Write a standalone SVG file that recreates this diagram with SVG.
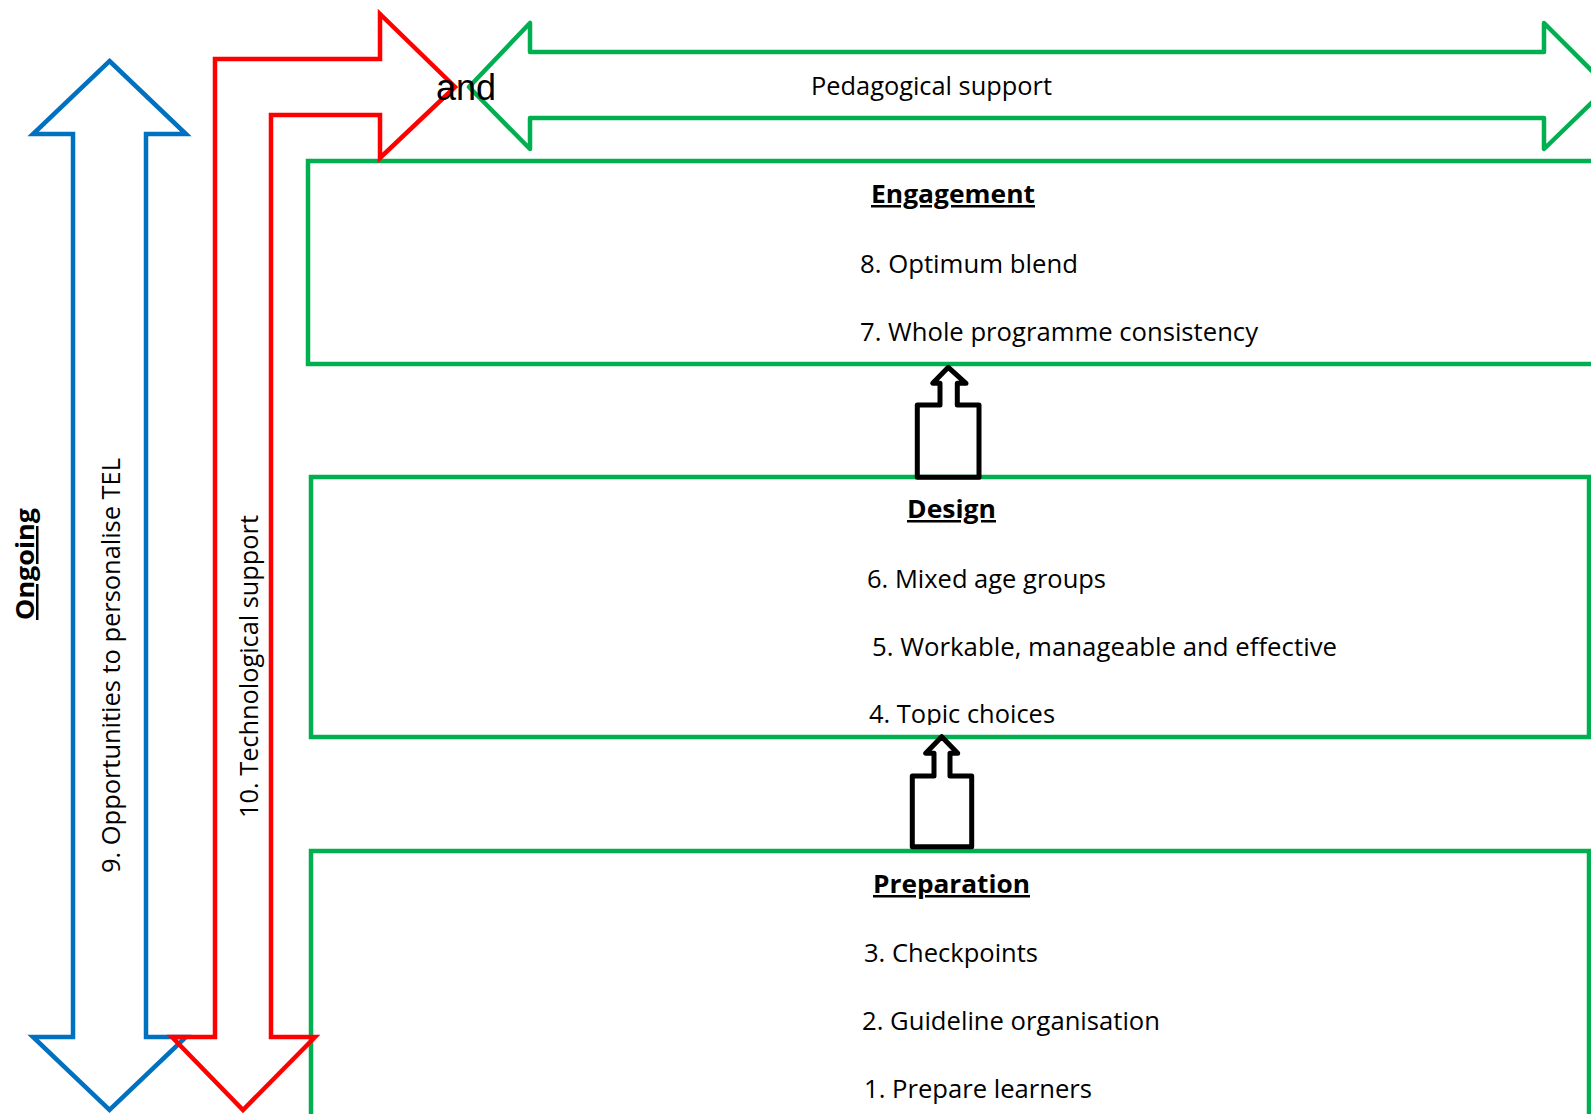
<svg xmlns="http://www.w3.org/2000/svg" width="1591" height="1114" viewBox="0 0 1591 1114">
<defs>
<style>
.bx{fill:none;stroke:#00B050;stroke-width:4.5;stroke-linejoin:miter}
.gr{fill:none;stroke:#00B050;stroke-width:4.5;stroke-linejoin:round}
.bl{fill:none;stroke:#0070C0;stroke-width:4.5;stroke-linejoin:miter}
.rd{fill:none;stroke:#FF0000;stroke-width:4.5;stroke-linejoin:miter}
.bk{fill:none;stroke:#000000;stroke-width:5;stroke-linejoin:round}
.t{font-family:'Open Sans','Noto Sans',sans-serif;font-size:25px;fill:#000}
.h{font-family:'Open Sans','Noto Sans',sans-serif;font-size:25px;font-weight:bold;fill:#000;text-decoration:underline}
.and{font-family:'Liberation Sans',Arial,sans-serif;font-size:36px;fill:#000}
</style>
<clipPath id="clip4"><rect x="800" y="690" width="400" height="35"/></clipPath>
</defs>
<rect width="1591" height="1114" fill="#ffffff"/>

<g id="engagement">
<path class="bx" d="M1600,161 L308,161 L308,364 L1600,364"/>
<text class="h" x="871" y="203" textLength="164" lengthAdjust="spacingAndGlyphs">Engagement</text>
<text class="t" x="860" y="273" textLength="218" lengthAdjust="spacingAndGlyphs">8. Optimum blend</text>
<text class="t" x="860" y="341" textLength="398" lengthAdjust="spacingAndGlyphs">7. Whole programme consistency</text>
</g>

<g id="design">
<rect class="bx" x="311" y="477" width="1278" height="260"/>
<text class="h" x="907" y="518" textLength="89" lengthAdjust="spacingAndGlyphs">Design</text>
<text class="t" x="867" y="588" textLength="239" lengthAdjust="spacingAndGlyphs">6. Mixed age groups</text>
<text class="t" x="872" y="656" textLength="465" lengthAdjust="spacingAndGlyphs">5. Workable, manageable and effective</text>
<text class="t" x="869" y="723" textLength="186" lengthAdjust="spacingAndGlyphs" clip-path="url(#clip4)">4. Topic choices</text>
</g>

<g id="preparation">
<path class="bx" d="M311,1120 L311,851 L1589,851 L1589,1120"/>
<text class="h" x="873" y="893" textLength="157" lengthAdjust="spacingAndGlyphs">Preparation</text>
<text class="t" x="864" y="962" textLength="174" lengthAdjust="spacingAndGlyphs">3. Checkpoints</text>
<text class="t" x="862" y="1030" textLength="298" lengthAdjust="spacingAndGlyphs">2. Guideline organisation</text>
<text class="t" x="864" y="1098" textLength="228" lengthAdjust="spacingAndGlyphs">1. Prepare learners</text>
</g>

<g id="ongoing-label">
<text class="h" transform="translate(34,620) rotate(-90)" textLength="112" lengthAdjust="spacingAndGlyphs">Ongoing</text>
</g>

<g id="personalise-arrow">
<path class="bl" d="M109.5,61 L186,134 L146,134 L146,1037 L186,1037 L109.5,1110 L33,1037 L73,1037 L73,134 L33,134 Z"/>
<text class="t" transform="translate(120,873) rotate(-90)" textLength="415" lengthAdjust="spacingAndGlyphs">9. Opportunities to personalise TEL</text>
</g>

<g id="technological-arrow">
<path class="rd" d="M215,1037 L215,59 L380,59 L380,14 L455,87 L380,158 L380,115 L271,115 L271,1037 L315,1037 L243,1110 L172,1037 Z"/>
<text class="t" transform="translate(258,818) rotate(-90)" textLength="303" lengthAdjust="spacingAndGlyphs">10. Technological support</text>
</g>

<g id="pedagogical-arrow">
<path class="gr" d="M469,87 L530,23 L530,52 L1544,52 L1544,23 L1608,87 L1544,149 L1544,118 L530,118 L530,149 Z"/>
<text class="t" x="811" y="95" textLength="241" lengthAdjust="spacingAndGlyphs">Pedagogical support</text>
</g>

<g id="connectors">
<path class="bk" d="M948.3,367.3 L932.7,383.3 L940,383.3 L940,405 L917.3,405 L917.3,477.3 L979,477.3 L979,405 L957.3,405 L957.3,383.3 L966,383.3 Z"/>
<path class="bk" d="M941.7,736.7 L925.7,753.3 L934,753.3 L934,776 L912.3,776 L912.3,846.7 L971.7,846.7 L971.7,776 L950,776 L950,753.3 L957.7,753.3 Z"/>
</g>

<g id="and-label">
<text class="and" x="436" y="100">and</text>
</g>
</svg>
